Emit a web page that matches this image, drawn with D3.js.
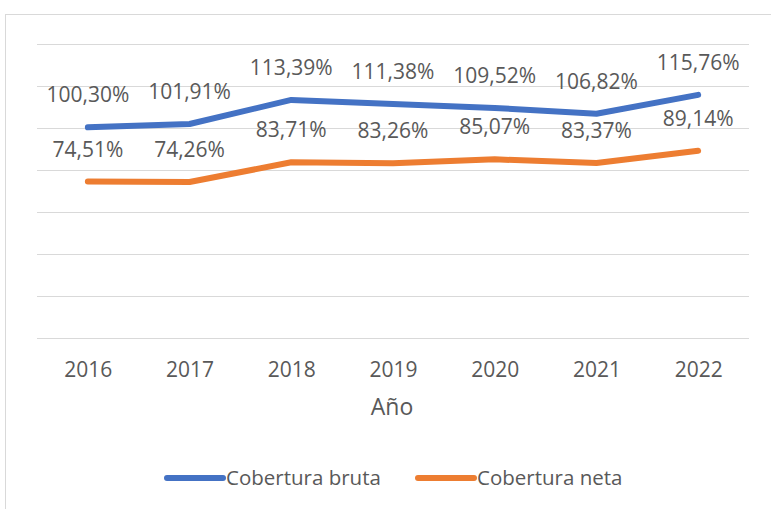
<!DOCTYPE html>
<html>
<head>
<meta charset="utf-8">
<script src="https://cdn.jsdelivr.net/npm/d3@7"></script>
<style>
  body { margin: 0; background: #fff; }
  text { font-family: "Open Sans", sans-serif; fill: #595959; }
</style>
</head>
<body>
<script>
const years = ["2016", "2017", "2018", "2019", "2020", "2021", "2022"]
const bruta = [100.30, 101.91, 113.39, 111.38, 109.52, 106.82, 115.76]
const neta = [74.51, 74.26, 83.71, 83.26, 85.07, 83.37, 89.14]
const yTicks = [0, 20, 40, 60, 80, 100, 120, 140]
const seriesNames = ["Cobertura bruta", "Cobertura neta"]
const colors = ["#4472C4", "#ED7D31"]

const width = 771, height = 509

const svg = d3.select("body").append("svg")
    .attr("width", width)
    .attr("height", height)

// chart border (runs off the right and bottom of the image)
svg.append("rect")
    .attr("x", 5.5).attr("y", 14.5)
    .attr("width", 800).attr("height", 600)
    .attr("fill", "none")
    .attr("stroke", "#d9d9d9")

const x = d3.scalePoint()
    .domain(years)
    .range([37, 749])
    .padding(0.5)

const y = d3.scaleLinear()
    .domain([0, 140])
    .range([338, 44])

// gridlines
svg.append("g")
    .attr("transform", "translate(37,0)")
    .call(d3.axisLeft(y).tickValues(yTicks).tickSize(-712).tickFormat(""))
    .call(g => g.select(".domain").remove())
    .call(g => g.selectAll("line").attr("stroke", "#d9d9d9").attr("stroke-width", 1.2))

// x axis labels
svg.append("g")
    .attr("transform", "translate(0,338)")
    .call(d3.axisBottom(x).tickSize(0).tickPadding(24))
    .call(g => g.select(".domain").remove())
    .call(g => g.selectAll("text")
        .style("font-family", "'Open Sans', sans-serif")
        .attr("font-size", 21)
        .attr("fill", "#595959"))

svg.append("text")
    .attr("x", 392).attr("y", 415)
    .attr("text-anchor", "middle")
    .attr("font-size", 23)
    .text("Año")

const line = d3.line()
    .x((d, i) => x(years[i]))
    .y(d => y(d))

const series = [bruta, neta]
series.forEach((vals, k) => {
    svg.append("path")
        .datum(vals)
        .attr("d", line)
        .attr("fill", "none")
        .attr("stroke", colors[k])
        .attr("stroke-width", 6)
        .attr("stroke-linecap", "round")
        .attr("stroke-linejoin", "round")

    svg.append("g").selectAll("text")
        .data(vals)
        .enter()
        .append("text")
        .attr("x", (d, i) => x(years[i]))
        .attr("y", d => y(d) - 25)
        .attr("text-anchor", "middle")
        .attr("font-size", 21)
        .text(d => d.toFixed(2).replace(".", ",") + "%")
})

// legend
const legendX = [167, 418]
seriesNames.forEach((name, k) => {
    svg.append("line")
        .attr("x1", legendX[k]).attr("x2", legendX[k] + 56)
        .attr("y1", 478).attr("y2", 478)
        .attr("stroke", colors[k])
        .attr("stroke-width", 6)
        .attr("stroke-linecap", "round")
    svg.append("text")
        .attr("x", legendX[k] + 59).attr("y", 485)
        .attr("font-size", 20.5)
        .text(name)
})
</script>
</body>
</html>
